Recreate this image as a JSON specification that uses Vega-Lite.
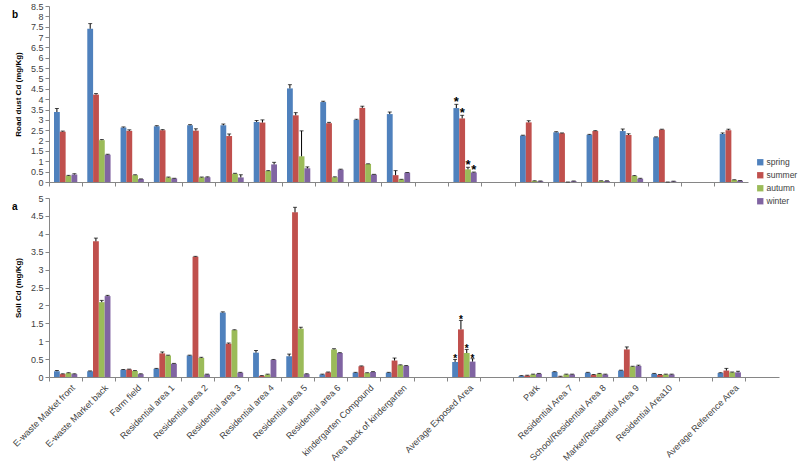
{
  "$schema": "https://vega.github.io/schema/vega-lite/v6.json",
  "padding": {"left": 11, "top": 2, "right": 0, "bottom": 0},
  "config": {
    "view": {"stroke": null},
    "font": "Liberation Sans",
    "axis": {"domainColor": "#868686", "tickColor": "#868686", "labelColor": "#404040", "labelFont": "Liberation Sans", "labelFontSize": 9, "labelOverlap": false, "grid": false, "tickSize": 4, "titleFont": "Liberation Sans", "titleFontSize": 8, "titleFontWeight": "bold", "titleColor": "#000000"},
    "legend": {"labelFontSize": 8.5, "labelColor": "#404040", "labelFont": "Liberation Sans", "symbolType": "square", "symbolSize": 40, "symbolStrokeWidth": 0, "rowPadding": 4, "labelOffset": 2},
    "title": {"font": "Liberation Sans"}
  },
  "data": {"values": [
    {"c": "E-waste Market front", "s": "spring", "d": 3.38, "dh": 3.55, "so": 0.16, "sh": 0.18},
    {"c": "E-waste Market front", "s": "summer", "d": 2.43, "dh": 2.46, "so": 0.08, "sh": 0.09},
    {"c": "E-waste Market front", "s": "autumn", "d": 0.30, "dh": 0.32, "so": 0.11, "sh": 0.12},
    {"c": "E-waste Market front", "s": "winter", "d": 0.36, "dh": 0.40, "so": 0.08, "sh": 0.09},
    {"c": "E-waste Market back", "s": "spring", "d": 7.40, "dh": 7.65, "so": 0.16, "sh": 0.17},
    {"c": "E-waste Market back", "s": "summer", "d": 4.22, "dh": 4.27, "so": 3.79, "sh": 3.88},
    {"c": "E-waste Market back", "s": "autumn", "d": 2.02, "dh": 2.05, "so": 2.09, "sh": 2.14},
    {"c": "E-waste Market back", "s": "winter", "d": 1.32, "dh": 1.34, "so": 2.26, "sh": 2.28},
    {"c": "Farm field", "s": "spring", "d": 2.63, "dh": 2.66, "so": 0.20, "sh": 0.21},
    {"c": "Farm field", "s": "summer", "d": 2.47, "dh": 2.52, "so": 0.21, "sh": 0.22},
    {"c": "Farm field", "s": "autumn", "d": 0.33, "dh": 0.35, "so": 0.17, "sh": 0.18},
    {"c": "Farm field", "s": "winter", "d": 0.14, "dh": 0.15, "so": 0.08, "sh": 0.09},
    {"c": "Residential area 1", "s": "spring", "d": 2.69, "dh": 2.72, "so": 0.23, "sh": 0.24},
    {"c": "Residential area 1", "s": "summer", "d": 2.50, "dh": 2.53, "so": 0.66, "sh": 0.70},
    {"c": "Residential area 1", "s": "autumn", "d": 0.22, "dh": 0.24, "so": 0.60, "sh": 0.61},
    {"c": "Residential area 1", "s": "winter", "d": 0.17, "dh": 0.18, "so": 0.37, "sh": 0.38},
    {"c": "Residential area 2", "s": "spring", "d": 2.74, "dh": 2.77, "so": 0.60, "sh": 0.61},
    {"c": "Residential area 2", "s": "summer", "d": 2.48, "dh": 2.57, "so": 3.36, "sh": 3.37},
    {"c": "Residential area 2", "s": "autumn", "d": 0.22, "dh": 0.24, "so": 0.53, "sh": 0.55},
    {"c": "Residential area 2", "s": "winter", "d": 0.23, "dh": 0.25, "so": 0.07, "sh": 0.08},
    {"c": "Residential area 3", "s": "spring", "d": 2.74, "dh": 2.80, "so": 1.80, "sh": 1.82},
    {"c": "Residential area 3", "s": "summer", "d": 2.22, "dh": 2.32, "so": 0.93, "sh": 0.95},
    {"c": "Residential area 3", "s": "autumn", "d": 0.40, "dh": 0.42, "so": 1.31, "sh": 1.32},
    {"c": "Residential area 3", "s": "winter", "d": 0.22, "dh": 0.35, "so": 0.12, "sh": 0.13},
    {"c": "Residential area 4", "s": "spring", "d": 2.90, "dh": 2.97, "so": 0.68, "sh": 0.74},
    {"c": "Residential area 4", "s": "summer", "d": 2.87, "dh": 3.00, "so": 0.03, "sh": 0.04},
    {"c": "Residential area 4", "s": "autumn", "d": 0.53, "dh": 0.55, "so": 0.07, "sh": 0.08},
    {"c": "Residential area 4", "s": "winter", "d": 0.85, "dh": 0.95, "so": 0.48, "sh": 0.49},
    {"c": "Residential area 5", "s": "spring", "d": 4.52, "dh": 4.70, "so": 0.58, "sh": 0.64},
    {"c": "Residential area 5", "s": "summer", "d": 3.22, "dh": 3.35, "so": 4.60, "sh": 4.74},
    {"c": "Residential area 5", "s": "autumn", "d": 1.24, "dh": 2.47, "so": 1.35, "sh": 1.39},
    {"c": "Residential area 5", "s": "winter", "d": 0.66, "dh": 0.73, "so": 0.08, "sh": 0.09},
    {"c": "Residential area 6", "s": "spring", "d": 3.86, "dh": 3.90, "so": 0.07, "sh": 0.08},
    {"c": "Residential area 6", "s": "summer", "d": 2.84, "dh": 2.88, "so": 0.13, "sh": 0.14},
    {"c": "Residential area 6", "s": "autumn", "d": 0.23, "dh": 0.25, "so": 0.77, "sh": 0.79},
    {"c": "Residential area 6", "s": "winter", "d": 0.60, "dh": 0.62, "so": 0.67, "sh": 0.68},
    {"c": "kindergarten Compound", "s": "spring", "d": 3.00, "dh": 3.03, "so": 0.12, "sh": 0.13},
    {"c": "kindergarten Compound", "s": "summer", "d": 3.58, "dh": 3.66, "so": 0.30, "sh": 0.31},
    {"c": "kindergarten Compound", "s": "autumn", "d": 0.87, "dh": 0.88, "so": 0.11, "sh": 0.12},
    {"c": "kindergarten Compound", "s": "winter", "d": 0.36, "dh": 0.37, "so": 0.14, "sh": 0.15},
    {"c": "Area back of kindergarten", "s": "spring", "d": 3.28, "dh": 3.38, "so": 0.12, "sh": 0.13},
    {"c": "Area back of kindergarten", "s": "summer", "d": 0.33, "dh": 0.55, "so": 0.46, "sh": 0.53},
    {"c": "Area back of kindergarten", "s": "autumn", "d": 0.12, "dh": 0.13, "so": 0.33, "sh": 0.34},
    {"c": "Area back of kindergarten", "s": "winter", "d": 0.45, "dh": 0.46, "so": 0.31, "sh": 0.32},
    {"c": "Average  Exposed Area", "s": "spring", "d": 3.57, "dh": 3.75, "so": 0.42, "sh": 0.49, "ds": "*", "ss": "*"},
    {"c": "Average  Exposed Area", "s": "summer", "d": 3.07, "dh": 3.22, "so": 1.33, "sh": 1.58, "ds": "*", "ss": "*"},
    {"c": "Average  Exposed Area", "s": "autumn", "d": 0.61, "dh": 0.71, "so": 0.67, "sh": 0.77, "ds": "*", "ss": "*"},
    {"c": "Average  Exposed Area", "s": "winter", "d": 0.46, "dh": 0.48, "so": 0.43, "sh": 0.51, "ds": "*", "ss": "*"},
    {"c": "Park", "s": "spring", "d": 2.24, "dh": 2.26, "so": 0.03, "sh": 0.04},
    {"c": "Park", "s": "summer", "d": 2.88, "dh": 2.96, "so": 0.04, "sh": 0.05},
    {"c": "Park", "s": "autumn", "d": 0.05, "dh": 0.06, "so": 0.07, "sh": 0.08},
    {"c": "Park", "s": "winter", "d": 0.04, "dh": 0.05, "so": 0.09, "sh": 0.10},
    {"c": "Residential Area 7", "s": "spring", "d": 2.40, "dh": 2.43, "so": 0.14, "sh": 0.15},
    {"c": "Residential Area 7", "s": "summer", "d": 2.35, "dh": 2.37, "so": 0.01, "sh": 0.02},
    {"c": "Residential Area 7", "s": "autumn", "d": 0.00, "dh": 0.00, "so": 0.07, "sh": 0.08},
    {"c": "Residential Area 7", "s": "winter", "d": 0.04, "dh": 0.05, "so": 0.07, "sh": 0.08},
    {"c": "School/Residential Area 8", "s": "spring", "d": 2.28, "dh": 2.30, "so": 0.12, "sh": 0.13},
    {"c": "School/Residential Area 8", "s": "summer", "d": 2.46, "dh": 2.48, "so": 0.06, "sh": 0.07},
    {"c": "School/Residential Area 8", "s": "autumn", "d": 0.05, "dh": 0.06, "so": 0.09, "sh": 0.10},
    {"c": "School/Residential Area 8", "s": "winter", "d": 0.05, "dh": 0.06, "so": 0.07, "sh": 0.08},
    {"c": "Market/Residential Area 9", "s": "spring", "d": 2.46, "dh": 2.56, "so": 0.18, "sh": 0.19},
    {"c": "Market/Residential Area 9", "s": "summer", "d": 2.27, "dh": 2.33, "so": 0.77, "sh": 0.84},
    {"c": "Market/Residential Area 9", "s": "autumn", "d": 0.29, "dh": 0.31, "so": 0.29, "sh": 0.30},
    {"c": "Market/Residential Area 9", "s": "winter", "d": 0.16, "dh": 0.18, "so": 0.31, "sh": 0.33},
    {"c": "Residential Area10", "s": "spring", "d": 2.16, "dh": 2.18, "so": 0.09, "sh": 0.10},
    {"c": "Residential Area10", "s": "summer", "d": 2.53, "dh": 2.55, "so": 0.06, "sh": 0.07},
    {"c": "Residential Area10", "s": "autumn", "d": 0.00, "dh": 0.00, "so": 0.07, "sh": 0.08},
    {"c": "Residential Area10", "s": "winter", "d": 0.03, "dh": 0.04, "so": 0.07, "sh": 0.08},
    {"c": "Average Reference Area", "s": "spring", "d": 2.32, "dh": 2.37, "so": 0.11, "sh": 0.12},
    {"c": "Average Reference Area", "s": "summer", "d": 2.50, "dh": 2.55, "so": 0.18, "sh": 0.24},
    {"c": "Average Reference Area", "s": "autumn", "d": 0.10, "dh": 0.11, "so": 0.13, "sh": 0.14},
    {"c": "Average Reference Area", "s": "winter", "d": 0.06, "dh": 0.07, "so": 0.13, "sh": 0.16}
  ]},
  "bounds": "flush",
  "spacing": 16,
  "resolve": {"scale": {"color": "shared"}, "legend": {"color": "independent"}},
  "vconcat": [
    {
      "width": 699,
      "height": 176,
      "title": {"text": "b", "orient": "top", "anchor": "start", "frame": "group", "dx": -37, "dy": 18, "fontSize": 10, "fontWeight": "bold", "offset": 0, "color": "#000000"},
      "encoding": {
        "x": {"field": "c", "type": "nominal", "sort": null,
          "scale": {"domain": ["E-waste Market front", "E-waste Market back", "Farm field", "Residential area 1", "Residential area 2", "Residential area 3", "Residential area 4", "Residential area 5", "Residential area 6", "kindergarten Compound", "Area back of kindergarten", " ", "Average  Exposed Area", "  ", "Park", "Residential Area 7", "School/Residential Area 8", "Market/Residential Area 9", "Residential Area10", "   ", "Average Reference Area"], "paddingInner": 0, "paddingOuter": 0},
          "axis": {"labels": false, "title": null, "bandPosition": 0, "tickSize": 4}},
        "xOffset": {"field": "s", "type": "nominal", "scale": {"domain": ["spring", "summer", "autumn", "winter"], "paddingInner": 0, "paddingOuter": 0.857}}
      },
      "layer": [
        {
          "mark": {"type": "bar"},
          "encoding": {
            "y": {"field": "d", "type": "quantitative", "scale": {"domain": [0, 8.5], "nice": false},
              "axis": {"title": "Road dust  Cd (mg/Kg)", "values": [0, 0.5, 1, 1.5, 2, 2.5, 3, 3.5, 4, 4.5, 5, 5.5, 6, 6.5, 7, 7.5, 8, 8.5], "format": ".1~f", "labelOverlap": false, "labelPadding": 2, "titlePadding": 8}},
            "color": {"field": "s", "type": "nominal", "scale": {"domain": ["spring", "summer", "autumn", "winter"], "range": ["#4F81BD", "#C0504D", "#9BBB59", "#8064A2"]},
              "legend": {"title": null, "orient": "none", "legendX": 707, "legendY": 152}}
          }
        },
        {
          "mark": {"type": "rule", "color": "#000000", "strokeWidth": 1},
          "encoding": {"y": {"field": "d", "type": "quantitative", "axis": {"title": "Road dust  Cd (mg/Kg)", "values": [0, 0.5, 1, 1.5, 2, 2.5, 3, 3.5, 4, 4.5, 5, 5.5, 6, 6.5, 7, 7.5, 8, 8.5], "format": ".1~f", "labelOverlap": false, "labelPadding": 2, "titlePadding": 8}}, "y2": {"field": "dh"}}
        },
        {
          "mark": {"type": "tick", "color": "#000000", "size": 4, "thickness": 1},
          "encoding": {"y": {"field": "dh", "type": "quantitative", "axis": {"title": "Road dust  Cd (mg/Kg)", "values": [0, 0.5, 1, 1.5, 2, 2.5, 3, 3.5, 4, 4.5, 5, 5.5, 6, 6.5, 7, 7.5, 8, 8.5], "format": ".1~f", "labelOverlap": false, "labelPadding": 2, "titlePadding": 8}}}
        },
        {
          "transform": [{"filter": "datum.ds != null"}],
          "mark": {"type": "text", "fontSize": 13, "fontWeight": "bold", "color": "#000000", "baseline": "alphabetic", "dy": 2},
          "encoding": {"y": {"field": "dh", "type": "quantitative", "axis": {"title": "Road dust  Cd (mg/Kg)", "values": [0, 0.5, 1, 1.5, 2, 2.5, 3, 3.5, 4, 4.5, 5, 5.5, 6, 6.5, 7, 7.5, 8, 8.5], "format": ".1~f", "labelOverlap": false, "labelPadding": 2, "titlePadding": 8}}, "text": {"field": "ds"}}
        }
      ]
    },
    {
      "width": 730,
      "height": 179,
      "title": {"text": "a", "orient": "top", "anchor": "start", "frame": "group", "dx": -37, "dy": 18, "fontSize": 10, "fontWeight": "bold", "offset": 0, "color": "#000000"},
      "encoding": {
        "x": {"field": "c", "type": "nominal", "sort": null,
          "scale": {"domain": ["E-waste Market front", "E-waste Market back", "Farm field", "Residential area 1", "Residential area 2", "Residential area 3", "Residential area 4", "Residential area 5", "Residential area 6", "kindergarten Compound", "Area back of kindergarten", " ", "Average  Exposed Area", "  ", "Park", "Residential Area 7", "School/Residential Area 8", "Market/Residential Area 9", "Residential Area10", "   ", "Average Reference Area", "    "], "paddingInner": 0, "paddingOuter": 0},
          "axis": {"title": null, "bandPosition": 0, "tickSize": 4, "labelAngle": -45, "labelFontSize": 9, "labelPadding": 2, "labelOffset": 5, "labelLimit": 200}},
        "xOffset": {"field": "s", "type": "nominal", "scale": {"domain": ["spring", "summer", "autumn", "winter"], "paddingInner": 0, "paddingOuter": 0.857}}
      },
      "layer": [
        {
          "mark": {"type": "bar"},
          "encoding": {
            "y": {"field": "so", "type": "quantitative", "scale": {"domain": [0, 5], "nice": false},
              "axis": {"title": "Soil Cd (mg/Kg)", "values": [0, 0.5, 1, 1.5, 2, 2.5, 3, 3.5, 4, 4.5, 5], "format": ".1~f", "labelOverlap": false, "labelPadding": 2, "titlePadding": 8}},
            "color": {"field": "s", "type": "nominal", "legend": null}
          }
        },
        {
          "mark": {"type": "rule", "color": "#000000", "strokeWidth": 1},
          "encoding": {"y": {"field": "so", "type": "quantitative", "axis": {"title": "Soil Cd (mg/Kg)", "values": [0, 0.5, 1, 1.5, 2, 2.5, 3, 3.5, 4, 4.5, 5], "format": ".1~f", "labelOverlap": false, "labelPadding": 2, "titlePadding": 8}}, "y2": {"field": "sh"}}
        },
        {
          "mark": {"type": "tick", "color": "#000000", "size": 4, "thickness": 1},
          "encoding": {"y": {"field": "sh", "type": "quantitative", "axis": {"title": "Soil Cd (mg/Kg)", "values": [0, 0.5, 1, 1.5, 2, 2.5, 3, 3.5, 4, 4.5, 5], "format": ".1~f", "labelOverlap": false, "labelPadding": 2, "titlePadding": 8}}}
        },
        {
          "transform": [{"filter": "datum.ss != null"}],
          "mark": {"type": "text", "fontSize": 10, "fontWeight": "bold", "color": "#000000", "baseline": "alphabetic", "dy": 3},
          "encoding": {"y": {"field": "sh", "type": "quantitative", "axis": {"title": "Soil Cd (mg/Kg)", "values": [0, 0.5, 1, 1.5, 2, 2.5, 3, 3.5, 4, 4.5, 5], "format": ".1~f", "labelOverlap": false, "labelPadding": 2, "titlePadding": 8}}, "text": {"field": "ss"}}
        }
      ]
    }
  ]
}
